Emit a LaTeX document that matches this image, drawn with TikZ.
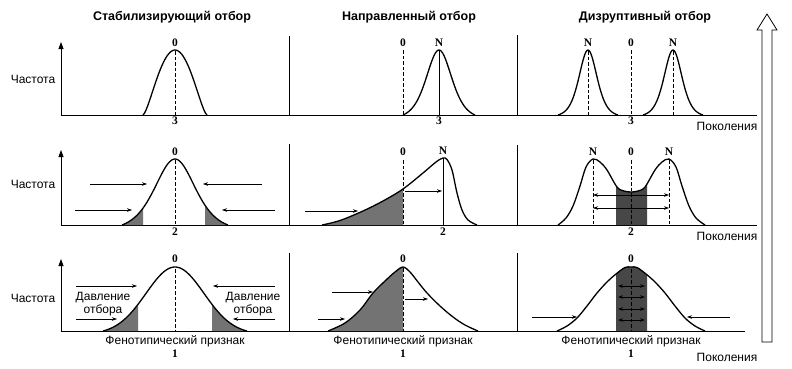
\documentclass[tikz,border=0pt]{standalone}
\usepackage{fontspec}
\setmainfont{Liberation Sans}
\newfontfamily\numfont{Liberation Serif}
\usetikzlibrary{arrows.meta,patterns.meta}
\tikzset{
 crv/.style={line width=1.3pt, line join=round},
 axl/.style={line width=0.8pt},
 yax/.style={line width=0.8pt, -{Triangle[length=7pt,width=5pt]}},
 arr/.style={line width=0.6pt, -{Stealth[length=5pt,width=3.5pt]}},
 darr/.style={line width=0.6pt, {Stealth[length=5pt,width=3.5pt]}-{Stealth[length=5pt,width=3.5pt]}},
 dsh/.style={line width=0.7pt, dash pattern=on 3.5pt off 2pt},
 hatch/.style={fill=black!55, postaction={pattern={Lines[angle=-45,distance=1.8pt,line width=0.6pt]}}},
 dhatch/.style={fill=black!72, postaction={pattern={Lines[angle=-45,distance=1.8pt,line width=0.6pt]}}},
 ttl/.style={font=\bfseries\fontsize{12.5}{14}\selectfont, inner sep=0},
 txt/.style={font=\fontsize{12}{12.5}\selectfont, inner sep=0, align=center},
 num/.style={font=\numfont\bfseries\fontsize{11.5}{11.5}\selectfont, inner sep=0},
}
\begin{document}
\begin{tikzpicture}[x=1pt,y=-1pt]
\useasboundingbox[fill=white] (0,0) rectangle (792,368);

% titles
\node[ttl] (t1) at (172,17) {Стабилизирующий отбор};
\node[ttl] (t2) at (409,17) {Направленный отбор};
\node[ttl] (t3) at (645,17) {Дизруптивный отбор};

% frequency labels
\node[txt] (f1) at (33,79) {Частота};
\node[txt] (f2) at (33,184) {Частота};
\node[txt] (f3) at (33,298) {Частота};

% generations labels
\node[txt] (g1) at (727,126) {Поколения};
\node[txt] (g2) at (727,236) {Поколения};
\node[txt] (g3) at (727,357) {Поколения};

% axes and separators
\draw[yax] (61,115) -- (61,42);
\draw[yax] (61,225) -- (61,150);
\draw[yax] (61,331) -- (61,259);
\draw[axl] (61,115) -- (757,115);
\draw[axl] (61,225) -- (757,225);
\draw[axl] (61,331) -- (745,331);
\draw[axl] (289,36) -- (289,115);
\draw[axl] (517,35) -- (517,115);
\draw[axl] (289,144) -- (289,225);
\draw[axl] (517,145) -- (517,225);
\draw[axl] (289,253) -- (289,331);
\draw[axl] (517,253) -- (517,331);

% big hollow arrow
\draw[line width=0.8pt, fill=white, line join=miter] (762,342) -- (762,30) -- (757,30) -- (767,14) -- (777,30) -- (772,30) -- (772,342) -- cycle;

%%%%% ROW 1
\path[save path=\pa] plot[domain=-32:32,samples=41] ({175+\x},{115-65*(1-(\x/32)*(\x/32))*sqrt(max(0,1-(\x/32)*(\x/32)))});
\draw[dsh] (175,51) -- (175,115);
\draw[crv, use path=\pa];
\node[num] (r1a0) at (175,43) {0};
\node[num] (r1a3) at (175,121) {3};

\path[save path=\pb] plot[domain=-36:36,samples=61] ({439+\x},{115-65*(4/(exp(\x/17)+exp(-\x/17))^2-0.056)/0.944});
\draw[dsh] (403,50) -- (403,115);
\draw[line width=0.6pt] (439,50) -- (439,115);
\draw[crv, use path=\pb];
\node[num] (r1b0) at (403,43) {0};
\node[num] (r1bN) at (439,43) {N};
\node[num] (r1b3) at (439,121) {3};

\path[save path=\pc] plot[domain=-30:30,samples=61] ({588+\x},{115-65*(4/(exp(\x/12)+exp(-\x/12))^2-0.026)/0.974});
\path[save path=\pd] plot[domain=-30:30,samples=61] ({673+\x},{115-65*(4/(exp(\x/12)+exp(-\x/12))^2-0.026)/0.974});
\draw[dsh] (588,51) -- (588,115);
\draw[dsh] (631,50) -- (631,115);
\draw[dsh] (673,51) -- (673,115);
\draw[crv, use path=\pc];
\draw[crv, use path=\pd];
\node[num] (r1cN1) at (588,43) {N};
\node[num] (r1c0) at (631,43) {0};
\node[num] (r1cN2) at (673,43) {N};
\node[num] (r1c3) at (631,121) {3};

%%%%% ROW 2
\path[save path=\qa] plot[domain=-53:53,samples=81] ({175+\x},{225-66*(4/(exp(\x/27)+exp(-\x/27))^2-0.076)/0.924});
\begin{scope}
\clip (100,140) rectangle (143,226) (205,140) rectangle (240,226);
\fill[hatch, use path=\qa];
\end{scope}
\draw[dsh] (175,160) -- (175,225);
\draw[crv, use path=\qa];
\node[num] (r2a0) at (175,152) {0};
\node[num] (r2a2) at (175,232) {2};
\coordinate (a1s) at (90,184);   \coordinate (a1e) at (147,184);
\coordinate (a2s) at (262,184);  \coordinate (a2e) at (203,184);
\coordinate (a3s) at (75,210);   \coordinate (a3e) at (132,210);
\coordinate (a4s) at (275,210);  \coordinate (a4e) at (222,210);
\draw[arr] (a1s) -- (a1e);
\draw[arr] (a2s) -- (a2e);
\draw[arr] (a3s) -- (a3e);
\draw[arr] (a4s) -- (a4e);

\path[save path=\qb] plot[smooth,tension=0.55] coordinates {(322,225) (340,220.5) (363,211) (383,201) (403,189) (423,173) (436,162) (443,158) (447,159.5) (452,170) (457,193) (462,210) (468,220) (477,225)};
\begin{scope}
\clip (300,140) rectangle (403,226);
\fill[hatch, use path=\qb];
\end{scope}
\draw[dsh] (403,160) -- (403,225);
\draw[line width=0.6pt] (443,158) -- (443,225);
\draw[crv, use path=\qb];
\node[num] (r2b0) at (403,152) {0};
\node[num] (r2bN) at (443,151) {N};
\node[num] (r2b2) at (443,232) {2};
\coordinate (b1s) at (305,211);  \coordinate (b1e) at (358,211);
\coordinate (b2s) at (405,191);  \coordinate (b2e) at (442,191);
\draw[arr] (b1s) -- (b1e);
\draw[arr] (b2s) -- (b2e);

\path[save path=\qc] plot[smooth,tension=0.55] coordinates {(558,225) (566,218) (573,206) (580,186) (586,167) (593,159) (600,162) (607,170) (617,187) (624,191) (631,192) (638,191) (645,187) (655,170) (662,162) (669,159) (676,167) (682,186) (689,206) (696,218) (705,225)};
\begin{scope}
\clip (616,140) rectangle (647,226);
\fill[dhatch, use path=\qc];
\end{scope}
\draw[dsh] (593,160) -- (593,225);
\draw[dsh] (631,160) -- (631,225);
\draw[dsh] (669,160) -- (669,225);
\draw[crv, use path=\qc];
\node[num] (r2cN1) at (593,152) {N};
\node[num] (r2c0) at (631,152) {0};
\node[num] (r2cN2) at (669,152) {N};
\node[num] (r2c2) at (631,232) {2};
\coordinate (c1s) at (593,195);  \coordinate (c1e) at (669,195);
\coordinate (c2s) at (593,208);  \coordinate (c2e) at (669,208);
\draw[darr] (c1s) -- (c1e);
\draw[darr] (c2s) -- (c2e);

%%%%% ROW 3
\path[save path=\ra] plot[domain=-72:72,samples=81] ({175+\x},{331-64*(exp(-\x*\x/1682)-0.046)/0.954});
\begin{scope}
\clip (90,250) rectangle (138,332) (212,250) rectangle (262,332);
\fill[hatch, use path=\ra];
\end{scope}
\draw[dsh] (175,269) -- (175,331);
\draw[crv, use path=\ra];
\node[num] (r3a0) at (175,259) {0};
\node[txt] (r3ap) at (175,341) {Фенотипический признак};
\node[num] (r3a1) at (175,354) {1};
\node[txt] (dl) at (103,304) {Давление\\отбора};
\node[txt] (dr) at (253,304) {Давление\\отбора};
\coordinate (d1s) at (76,286);   \coordinate (d1e) at (137,286);
\coordinate (d2s) at (275,286);  \coordinate (d2e) at (213,286);
\coordinate (d3s) at (76,319);   \coordinate (d3e) at (117,319);
\coordinate (d4s) at (275,319);  \coordinate (d4e) at (233,319);
\draw[arr] (d1s) -- (d1e);
\draw[arr] (d2s) -- (d2e);
\draw[arr] (d3s) -- (d3e);
\draw[arr] (d4s) -- (d4e);

\path[save path=\rb] plot[smooth,tension=0.55] coordinates {(328,331) (345,323) (360,310) (373,293) (385,281) (395,272) (403,267) (410,272) (418,282) (427,293) (440,306) (453,317) (465,325) (478,331)};
\begin{scope}
\clip (320,250) rectangle (403,332);
\fill[hatch, use path=\rb];
\end{scope}
\draw[dsh] (403,268) -- (403,331);
\draw[crv, use path=\rb];
\node[num] (r3b0) at (403,259) {0};
\node[txt] (r3bp) at (403,341) {Фенотипический признак};
\node[num] (r3b1) at (403,354) {1};
\coordinate (e1s) at (332,292);  \coordinate (e1e) at (373,292);
\coordinate (e2s) at (318,319);  \coordinate (e2e) at (345,319);
\coordinate (e3s) at (405,299);  \coordinate (e3e) at (428,299);
\draw[arr] (e1s) -- (e1e);
\draw[arr] (e2s) -- (e2e);
\draw[arr] (e3s) -- (e3e);

\path[save path=\rc] plot[smooth,tension=0.55] coordinates {(557,331) (567,326) (577,318) (587,306) (597,293) (607,282) (616,274) (625,267.5) (631,267) (637,267.5) (646,274) (655,282) (665,293) (675,306) (685,318) (695,326) (705,331)};
\begin{scope}
\clip (616,250) rectangle (647,332);
\fill[dhatch, use path=\rc];
\end{scope}
\draw[dsh] (631,269) -- (631,331);
\foreach \yy in {286,297,309,320} {
  \draw[darr, line width=0.7pt] (618,\yy) -- (645,\yy);
}
\draw[crv, use path=\rc];
\node[num] (r3c0) at (631,259) {0};
\node[txt] (r3cp) at (631,341) {Фенотипический признак};
\node[num] (r3c1) at (631,354) {1};
\coordinate (h1s) at (532,317);  \coordinate (h1e) at (577,317);
\coordinate (h2s) at (730,317);  \coordinate (h2e) at (687,317);
\draw[arr] (h1s) -- (h1e);
\draw[arr] (h2s) -- (h2e);
\end{tikzpicture}
\end{document}
